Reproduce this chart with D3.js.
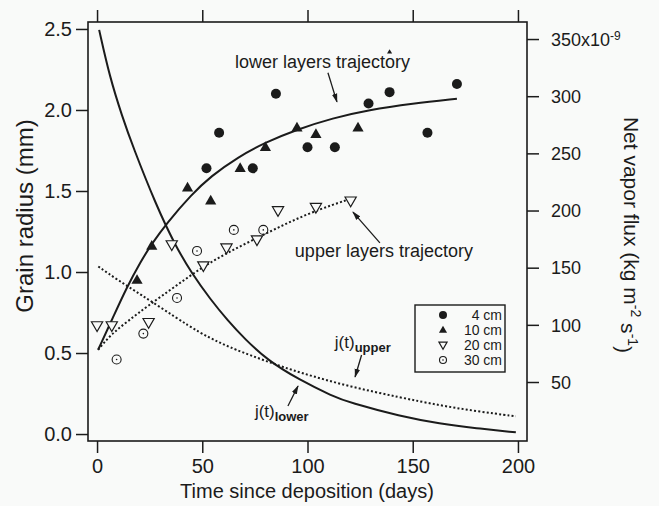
<!DOCTYPE html>
<html>
<head>
<meta charset="utf-8">
<script src="https://cdn.jsdelivr.net/npm/d3@7"></script>
<style>
  body { margin: 0; background: #f9faf9; }
  svg { display: block; font-family: "Liberation Sans", Arial, Helvetica, sans-serif; }
  .tick line { stroke: #1b1b1b; stroke-width: 1.5; }
  .tick text { fill: #1b1b1b; }
</style>
</head>
<body>
<div id="chart"></div>
<script>
// ticks
var xTicks = [0, 50, 100, 150, 200];
var leftTicks = [0, 0.5, 1.0, 1.5, 2.0, 2.5];
var rightTicks = [50, 100, 150, 200, 250, 300, 350];

// measured grain radius (days, mm)
var pts4cm = [[52, 1.64], [58, 1.86], [74, 1.64], [85, 2.10], [100, 1.77], [113, 1.77],
  [129, 2.04], [139, 2.11], [157, 1.86], [171, 2.16]];
var pts10cm = [[19, 0.95], [26, 1.16], [43, 1.52], [54, 1.44], [68, 1.64], [80, 1.77],
  [95, 1.89], [104, 1.85], [124, 1.89]];
var pts20cm = [[0, 0.67], [7, 0.67], [24.5, 0.69], [35.5, 1.17], [50.5, 1.04], [61.5, 1.15],
  [76, 1.20], [86, 1.38], [104, 1.40], [120.5, 1.44]];
var pts30cm = [[9.3, 0.46], [22, 0.62], [38, 0.84], [47.5, 1.13], [65, 1.26], [79, 1.26]];
var strayMark = [[139, 2.36]];

// trajectories (days, mm)
var lowerTraj = [[0.5, 0.52], [7.6, 0.72], [13.9, 0.90], [21, 1.07], [25.8, 1.17], [33, 1.30],
  [45, 1.48], [54, 1.59], [67, 1.71], [80, 1.80], [95, 1.88], [112, 1.95], [129, 2.00],
  [150, 2.04], [171, 2.07]];
var upperTraj = [[0.5, 0.52], [7, 0.62], [15, 0.70], [24, 0.79], [37, 0.91], [50, 1.03],
  [62, 1.12], [76, 1.21], [90, 1.30], [104, 1.38], [120, 1.45]];

// net vapor flux (days, 1e-9 kg m-2 s-1)
var jLower = [[1, 358], [6, 317], [12, 282], [17, 256], [28, 205], [37, 170], [45, 145],
  [54, 122], [62, 104], [70, 88], [81, 69], [96, 52], [112, 37.5], [120, 32], [144, 20],
  [163, 13.5], [180, 9.5], [199, 6]];
var jUpper = [[0.6, 151], [10, 139], [20.4, 127], [37.8, 106], [48.9, 93], [57.6, 85],
  [64.8, 79], [80.6, 68], [96.5, 58], [120, 46], [144, 36.5], [163, 29.5], [180, 24.5],
  [199, 20]];

var legendLabels = ["4 cm", "10 cm", "20 cm", "30 cm"];

var W = 659, H = 506;
var svg = d3.select("#chart").append("svg").attr("width", W).attr("height", H);

var x = d3.scaleLinear().domain([-4.3, 204.3]).range([88, 527]);
var yL = d3.scaleLinear().domain([-0.043, 2.543]).range([441, 22]);
var yR = d3.scaleLinear().domain([-1.6, 364.9]).range([441, 22]);

var ink = "#1b1b1b";

// axes
var gB = svg.append("g").attr("transform", "translate(0,441)")
  .call(d3.axisBottom(x).tickValues(xTicks).tickSize(12).tickPadding(6).tickFormat(d3.format("d")));
gB.selectAll("text").style("font-size", "20px");
var gT = svg.append("g").attr("transform", "translate(0,22)")
  .call(d3.axisTop(x).tickValues(xTicks).tickSize(12).tickFormat(""));
var gL = svg.append("g").attr("transform", "translate(88,0)")
  .call(d3.axisLeft(yL).tickValues(leftTicks).tickSize(12).tickPadding(4).tickFormat(d3.format(".1f")));
gL.selectAll("text").style("font-size", "20px");
var gR = svg.append("g").attr("transform", "translate(527,0)")
  .call(d3.axisRight(yR).tickValues(rightTicks).tickSize(12).tickPadding(12).tickFormat(""));
[gB, gT, gL, gR].forEach(function (g) { g.select(".domain").remove(); });

gR.selectAll(".tick").append("text")
  .attr("x", 24).attr("dy", "0.35em")
  .style("font-size", "18px").style("fill", ink)
  .each(function (d) {
    var t = d3.select(this);
    if (d === 350) {
      t.append("tspan").text("350x10");
      t.append("tspan").attr("dy", "-0.5em").style("font-size", "12px").text("-9");
    } else {
      t.text(d);
    }
  });

svg.append("rect")
  .attr("x", 88).attr("y", 22).attr("width", 527 - 88).attr("height", 441 - 22)
  .attr("fill", "none").attr("stroke", ink).attr("stroke-width", 1.6);

// axis titles
svg.append("text")
  .attr("transform", "translate(33,216) rotate(-90)")
  .attr("text-anchor", "middle").style("font-size", "24px").attr("fill", ink)
  .text("Grain radius (mm)");
svg.append("text")
  .attr("x", 307).attr("y", 498)
  .attr("text-anchor", "middle").style("font-size", "20px").attr("fill", ink)
  .text("Time since deposition (days)");
var rt = svg.append("text")
  .attr("transform", "translate(624,235) rotate(90)")
  .attr("text-anchor", "middle").style("font-size", "21px").attr("fill", ink);
rt.append("tspan").text("Net vapor flux (kg m");
rt.append("tspan").attr("dy", "-0.5em").style("font-size", "14px").text("-2");
rt.append("tspan").attr("dy", "0.5em").text(" s");
rt.append("tspan").attr("dy", "-0.5em").style("font-size", "14px").text("-1");
rt.append("tspan").attr("dy", "0.5em").text(")");

// curves
var lineL = d3.line().x(function (d) { return x(d[0]); }).y(function (d) { return yL(d[1]); })
  .curve(d3.curveBasis);
var lineR = d3.line().x(function (d) { return x(d[0]); }).y(function (d) { return yR(d[1]); })
  .curve(d3.curveBasis);

svg.append("path").datum(lowerTraj).attr("d", lineL)
  .attr("fill", "none").attr("stroke", ink).attr("stroke-width", 2);
svg.append("path").datum(upperTraj).attr("d", lineL)
  .attr("fill", "none").attr("stroke", ink).attr("stroke-width", 2).attr("stroke-dasharray", "2,2.2");
svg.append("path").datum(jLower).attr("d", lineR)
  .attr("fill", "none").attr("stroke", ink).attr("stroke-width", 2);
svg.append("path").datum(jUpper).attr("d", lineR)
  .attr("fill", "none").attr("stroke", ink).attr("stroke-width", 2).attr("stroke-dasharray", "2,2.2");

// markers
function drawSet(data, kind, size, cx, cy) {
  var g = svg.append("g");
  g.selectAll("x").data(data).enter().each(function (d) {
    var px = cx ? cx : x(d[0]), py = cy ? cy : yL(d[1]);
    var s = size;
    if (kind === "circle") {
      g.append("circle").attr("cx", px).attr("cy", py).attr("r", s / 2).attr("fill", ink);
    } else if (kind === "tri") {
      g.append("path").attr("d", d3.symbol(d3.symbolTriangle, s * s * 0.45)())
        .attr("transform", "translate(" + px + "," + (py + 0.5) + ")").attr("fill", ink);
    } else if (kind === "itri") {
      g.append("path").attr("d", d3.symbol(d3.symbolTriangle, s * s * 0.45)())
        .attr("transform", "translate(" + px + "," + (py - 0.5) + ") rotate(180)")
        .attr("fill", "#f9faf9").attr("stroke", ink).attr("stroke-width", 1.2);
    } else if (kind === "ocircle") {
      g.append("circle").attr("cx", px).attr("cy", py).attr("r", s / 2 - 0.5)
        .attr("fill", "none").attr("stroke", ink).attr("stroke-width", 1.1);
      g.append("circle").attr("cx", px).attr("cy", py).attr("r", 0.8).attr("fill", ink);
    }
  });
}
drawSet(pts4cm, "circle", 10);
drawSet(pts10cm, "tri", 11);
drawSet(strayMark, "tri", 5);
drawSet(pts20cm, "itri", 11);
drawSet(pts30cm, "ocircle", 10);

// legend
svg.append("rect").attr("x", 415).attr("y", 305).attr("width", 90).attr("height", 67)
  .attr("fill", "#f9faf9").attr("stroke", ink).attr("stroke-width", 1.4);
var kinds = ["circle", "tri", "itri", "ocircle"];
legendLabels.forEach(function (lab, i) {
  var ly = 315 + i * 15;
  drawSet([[0, 0]], kinds[i], 8, 443, ly);
  svg.append("text").attr("x", 502).attr("y", ly).attr("dy", "0.36em")
    .attr("text-anchor", "end").style("font-size", "14px").attr("fill", ink).text(lab);
});

// annotations
svg.append("defs").append("marker")
  .attr("id", "ah").attr("viewBox", "0 0 10 10").attr("refX", 9).attr("refY", 5)
  .attr("markerWidth", 7).attr("markerHeight", 7).attr("orient", "auto")
  .append("path").attr("d", "M0,2 L10,5 L0,8 Z").attr("fill", ink);

function arrow(a, b, yS) {
  svg.append("line")
    .attr("x1", x(a[0])).attr("y1", yS(a[1])).attr("x2", x(b[0])).attr("y2", yS(b[1]))
    .attr("stroke", ink).attr("stroke-width", 1.3).attr("marker-end", "url(#ah)");
}

svg.append("text").attr("x", x(65.5)).attr("y", yL(2.26))
  .style("font-size", "18px").attr("fill", ink).text("lower layers trajectory");
arrow([109.7, 2.23], [114, 2.05], yL);

svg.append("text").attr("x", x(94)).attr("y", yL(1.093))
  .style("font-size", "18px").attr("fill", ink).text("upper layers trajectory");
arrow([134.4, 1.18], [121.6, 1.37], yL);

function jLabel(t, v, sub) {
  var tx = svg.append("text").attr("x", x(t)).attr("y", yR(v))
    .style("font-size", "17px").attr("fill", ink);
  tx.append("tspan").text("j(t)");
  tx.append("tspan").attr("dy", "4").style("font-size", "13px").style("font-weight", "bold").text(sub);
}
jLabel(113, 79.8, "upper");
arrow([125.7, 73.6], [122.6, 54.4], yR);
jLabel(75, 19.4, "lower");
arrow([90.7, 29], [95.5, 46.5], yR);
</script>
</body>
</html>
